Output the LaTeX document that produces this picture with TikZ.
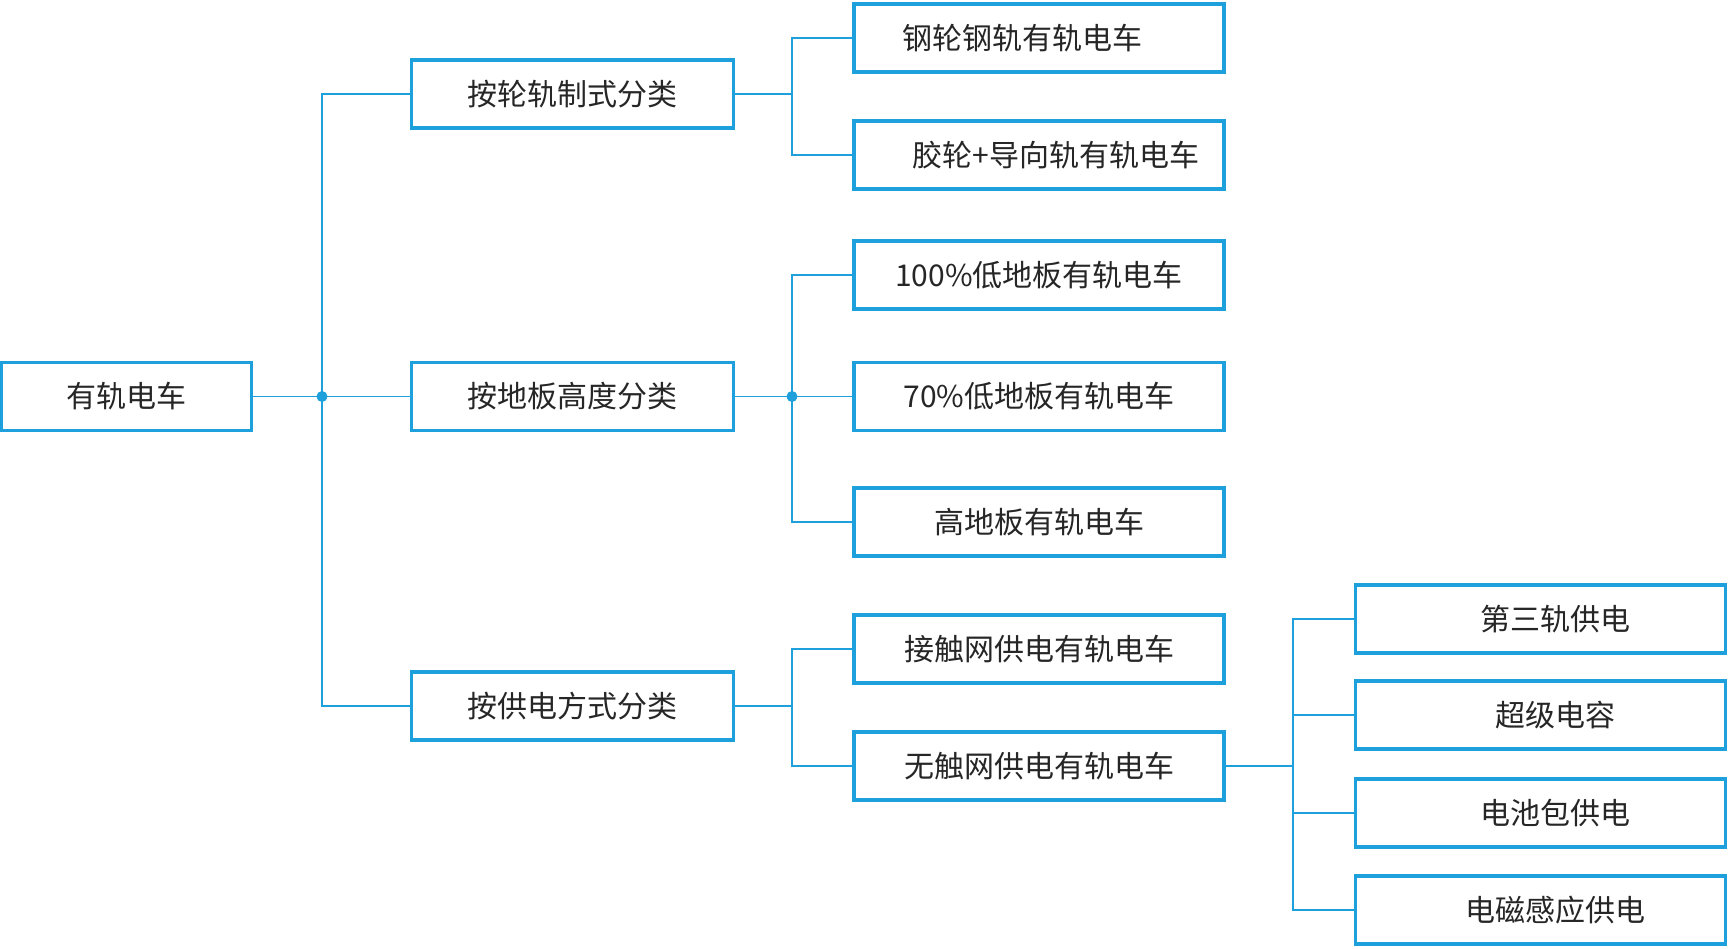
\documentclass[tikz,border=0pt]{standalone}
\usepackage{fontspec}
\newfontfamily\cjk{Noto Sans CJK SC}
\definecolor{lineblue}{RGB}{30,160,220}
\begin{document}
\begin{tikzpicture}[x=1pt,y=-1pt,
  box/.style={draw=lineblue,line width=3.5pt,fill=white,rectangle,inner sep=0pt,
    font=\cjk\fontsize{30}{36}\selectfont,text=black!85},
  rootbox/.style={box,minimum width=250pt,minimum height=68pt},
  lonebox/.style={box,minimum width=322pt,minimum height=68pt},
  ltwobox/.style={box,minimum width=370pt,minimum height=68pt},
  lthreebox/.style={box,minimum width=370pt,minimum height=68pt},
  conn/.style={draw=lineblue,line width=1.8pt},
  junc/.style={circle,fill=lineblue,inner sep=0pt,minimum size=11pt}]
\useasboundingbox (0,0) rectangle (1729,948);
% nodes
\node[rootbox] (root) at (126.5,396.5) {有轨电车};
\node[lonebox] (A) at (572.5,94) {按轮轨制式分类};
\node[lonebox] (B) at (572.5,396.5) {按地板高度分类};
\node[lonebox] (C) at (572.5,706) {按供电方式分类};
\node[ltwobox] (a1) at (1039,38) {钢轮钢轨有轨电车\hspace*{34pt}};
\node[ltwobox] (a2) at (1039,155) {\hspace*{34pt}胶轮+导向轨有轨电车};
\node[ltwobox] (b1) at (1039,275) {100\%低地板有轨电车};
\node[ltwobox] (b2) at (1039,396.5) {70\%低地板有轨电车};
\node[ltwobox] (b3) at (1039,522) {高地板有轨电车};
\node[ltwobox] (c1) at (1039,649) {接触网供电有轨电车};
\node[ltwobox] (c2) at (1039,766) {无触网供电有轨电车};
\node[lthreebox] (d1) at (1540.5,619) {\hspace*{30pt}第三轨供电};
\node[lthreebox] (d2) at (1540.5,715) {\hspace*{30pt}超级电容};
\node[lthreebox] (d3) at (1540.5,813) {\hspace*{30pt}电池包供电};
\node[lthreebox] (d4) at (1540.5,910) {\hspace*{30pt}电磁感应供电};
% junctions
\coordinate (j1) at (322,396.5);
\coordinate (ja) at (792,94);
\coordinate (jb) at (792,396.5);
\coordinate (jc) at (792,706);
\coordinate (jd) at (1293,766);
% connectors
\draw[conn] (root.east) -- (B.west);
\draw[conn] (A.west) -| (j1) |- (C.west);
\draw[conn] (A.east) -- (ja);
\draw[conn] (a1.west) -| (ja) |- (a2.west);
\draw[conn] (B.east) -- (b2.west);
\draw[conn] (b1.west) -| (jb) |- (b3.west);
\draw[conn] (C.east) -- (jc);
\draw[conn] (c1.west) -| (jc) |- (c2.west);
\draw[conn] (c2.east) -- (jd);
\draw[conn] (d1.west) -| (jd) |- (d4.west);
\draw[conn] (d2.west) -- (d2.west -| jd);
\draw[conn] (d3.west) -- (d3.west -| jd);
\node[junc] (dot1) at (j1) {};
\node[junc] (dot2) at (jb) {};
\end{tikzpicture}
\end{document}
